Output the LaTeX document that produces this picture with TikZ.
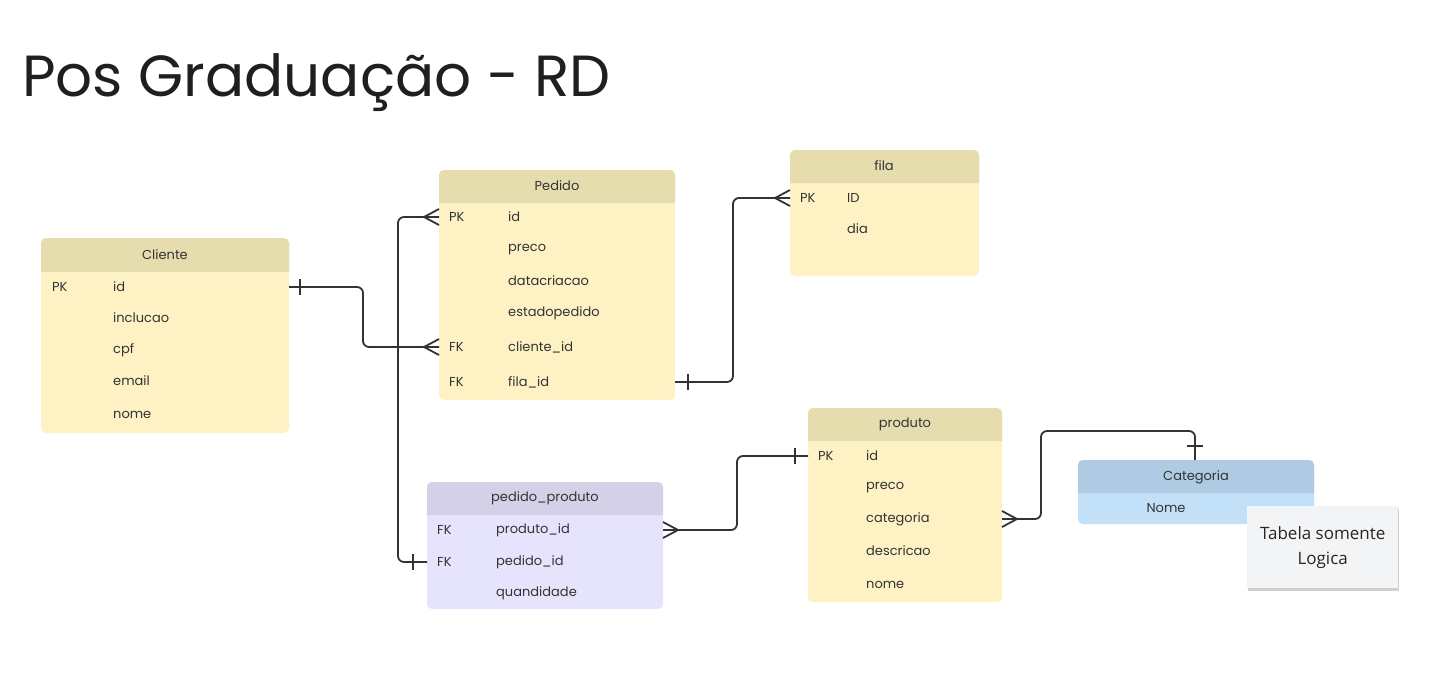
\documentclass[tikz,border=0pt]{standalone}
\usepackage{fontspec}
\usepackage{tikz}
\usetikzlibrary{shadows}
\setmainfont{Poppins}
\newfontfamily\notefont{Open Sans}

\definecolor{ylhead}{RGB}{230,221,175}
\definecolor{ylbody}{RGB}{254,242,197}
\definecolor{pphead}{RGB}{211,208,231}
\definecolor{ppbody}{RGB}{230,227,253}
\definecolor{blhead}{RGB}{174,203,227}
\definecolor{blbody}{RGB}{194,224,248}
\definecolor{ink}{RGB}{51,51,51}
\definecolor{notebg}{RGB}{243,244,246}

% table: name, x1, y1, x2, y2, bottom of header, colour prefix
\newcommand{\ertable}[7]{
  \fill[#7body, rounded corners=5] (#2,#3) rectangle (#4,#5);
  \fill[#7head] (#2,#6) [rounded corners=5] -- (#2,#3) -- (#4,#3) [sharp corners] -- (#4,#6) -- cycle;
  \coordinate (#1-nw) at (#2,#3);
  \coordinate (#1-se) at (#4,#5);
}

\tikzset{
  hdtext/.style={font=\fontsize{13}{15}\selectfont, text=ink, inner sep=0pt},
  keytext/.style={font=\fontsize{13}{15}\selectfont, text=ink, anchor=west, inner sep=0pt},
  fieldtext/.style={keytext},
  conn/.style={draw=ink, line width=1.8pt, rounded corners=6},
  crow/.pic={\draw[draw=ink, line width=1.8pt] (-15,0) -- (0,8) (-15,0) -- (0,-8);},
  onebar/.pic={\draw[draw=ink, line width=1.8pt] (0,-8) -- (0,8);}
}

\begin{document}
\begin{tikzpicture}[x=1pt, y=-1pt]
\useasboundingbox (0,0) rectangle (1435,696);
\fill[white] (0,0) rectangle (1435,696);

\node[anchor=base west, inner sep=0pt, font=\fontsize{58}{68}\selectfont, text=black!88] (title) at (22,96) {Pos Graduação - RD};

% Cliente
\ertable{cli}{41}{238}{289}{433}{272}{yl}
\node[hdtext] (cli-t) at (165,255) {Cliente};
\node[keytext] (cli-pk) at (52,287) {PK};
\node[fieldtext] (cli-id) at (113,287) {id};
\node[fieldtext] (cli-inc) at (113,318) {inclucao};
\node[fieldtext] (cli-cpf) at (113,350) {cpf};
\node[fieldtext] (cli-email) at (113,381) {email};
\node[fieldtext] (cli-nome) at (113,415) {nome};

% Pedido
\ertable{ped}{439}{170}{675}{400}{203}{yl}
\node[hdtext] (ped-t) at (557,186) {Pedido};
\node[keytext] (ped-pk) at (449,217) {PK};
\node[fieldtext] (ped-id) at (508,217) {id};
\node[fieldtext] (ped-preco) at (508,250) {preco};
\node[fieldtext] (ped-data) at (508,281) {datacriacao};
\node[fieldtext] (ped-estado) at (508,313) {estadopedido};
\node[keytext] (ped-fk1) at (449,347) {FK};
\node[fieldtext] (ped-cli) at (508,347) {cliente\_id};
\node[keytext] (ped-fk2) at (449,382) {FK};
\node[fieldtext] (ped-fila) at (508,382) {fila\_id};

% fila
\ertable{fila}{790}{150}{979}{276}{183}{yl}
\node[hdtext] (fila-t) at (884,166) {fila};
\node[keytext] (fila-pk) at (800,198) {PK};
\node[fieldtext] (fila-id) at (847,198) {ID};
\node[fieldtext] (fila-dia) at (847,229) {dia};

% pedido_produto
\ertable{pp}{427}{482}{663}{609}{515}{pp}
\node[hdtext] (pp-t) at (545,498) {pedido\_produto};
\node[keytext] (pp-fk1) at (437,530) {FK};
\node[fieldtext] (pp-prod) at (496,530) {produto\_id};
\node[keytext] (pp-fk2) at (437,562) {FK};
\node[fieldtext] (pp-ped) at (496,562) {pedido\_id};
\node[fieldtext] (pp-qtd) at (496,593) {quandidade};

% produto
\ertable{prod}{808}{408}{1002}{602}{441}{yl}
\node[hdtext] (prod-t) at (905,424) {produto};
\node[keytext] (prod-pk) at (818,456) {PK};
\node[fieldtext] (prod-id) at (866,456) {id};
\node[fieldtext] (prod-preco) at (866,488) {preco};
\node[fieldtext] (prod-cat) at (866,519) {categoria};
\node[fieldtext] (prod-desc) at (866,551) {descricao};
\node[fieldtext] (prod-nome) at (866,585) {nome};

% Categoria
\ertable{cat}{1078}{460}{1314}{524}{493}{bl}
\node[hdtext] (cat-t) at (1196,477) {Categoria};
\node[hdtext] (cat-nome) at (1166,508) {Nome};

% sticky note
\node[fill=notebg, minimum width=151, minimum height=82, anchor=north west, inner sep=0pt,
      drop shadow={shadow xshift=1pt, shadow yshift=-3pt, opacity=0.3, fill=black!60},
      align=center, font=\notefont\fontsize{17}{25}\selectfont, text=black!85] (note) at (1247,506)
      {Tabela somente\\Logica};

% relations
\draw[conn] (cli-se |- cli-id) -- (363,0 |- cli-id) |- (ped-nw |- ped-cli);
\draw[conn] (ped-nw |- ped-id) -- (398,0 |- ped-id) |- (pp-nw |- pp-ped);
\draw[conn] (ped-se |- ped-fila) -- (733,0 |- ped-fila) |- (fila-nw |- fila-id);
\draw[conn] (pp-se |- pp-prod) -- (737,0 |- pp-prod) |- (prod-nw |- prod-id);
\draw[conn] (prod-se |- prod-cat) -- (1041,0 |- prod-cat) |- (1195,431) -- (1195,0 |- cat-nw);

\pic at (ped-nw |- ped-cli) {crow};
\pic at (ped-nw |- ped-id) {crow};
\pic at (fila-nw |- fila-id) {crow};
\pic[rotate=180] at (pp-se |- pp-prod) {crow};
\pic[rotate=180] at (prod-se |- prod-cat) {crow};

\pic at (300,0 |- cli-id) {onebar};
\pic at (413,0 |- pp-ped) {onebar};
\pic at (688,0 |- ped-fila) {onebar};
\pic at (795,0 |- prod-id) {onebar};
\pic[rotate=90] at (1195,446) {onebar};
\end{tikzpicture}
\end{document}
